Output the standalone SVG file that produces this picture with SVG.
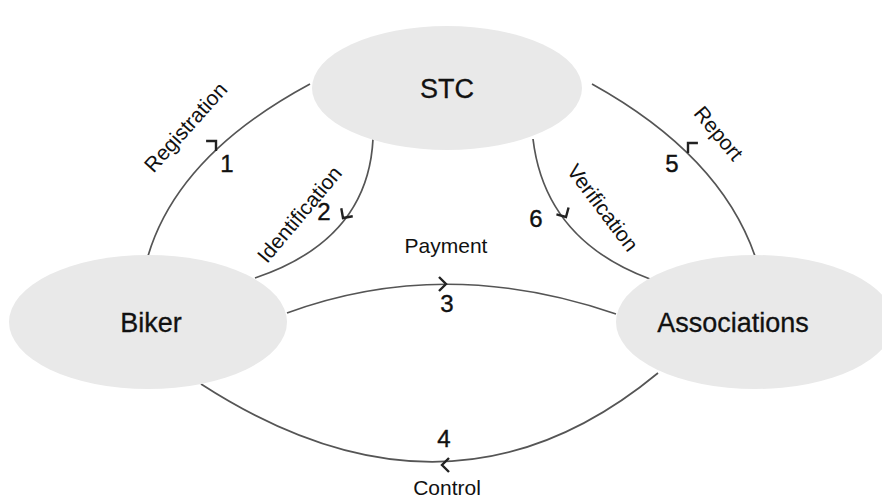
<svg xmlns="http://www.w3.org/2000/svg" width="882" height="499" viewBox="0 0 882 499">
<style>
.node{fill:#e9e9e9;stroke:none}
.nl{font-family:"Liberation Sans",Arial,sans-serif;font-size:27px;fill:#111;text-anchor:middle;stroke:#111;stroke-width:0.3}
.edge{fill:none;stroke:#555;stroke-width:1.7}
.ah{fill:none;stroke:#222;stroke-width:2.4}
.lab{font-family:"Liberation Sans",Arial,sans-serif;font-size:21px;fill:#111;text-anchor:middle}
.num{font-family:"Liberation Sans",Arial,sans-serif;font-size:24px;fill:#111;text-anchor:middle;stroke:#111;stroke-width:0.4}
</style>
<defs>
<path id="chev" d="M-7,-7 L0,0 L-7,7"/>
</defs>
<rect width="882" height="499" fill="#fff"/>
<g id="connectors">
<path class="edge" d="M148,256 Q178,155 310,84"/>
<use href="#chev" class="ah" transform="translate(216,141) rotate(-45)"/>
<path class="edge" d="M373,139 Q368,240 255,278"/>
<use href="#chev" class="ah" transform="translate(343,218) rotate(125)"/>
<path class="edge" d="M287,313 Q445,255 616,314"/>
<use href="#chev" class="ah" transform="translate(446,284) rotate(0)"/>
<path class="edge" d="M201,384 Q450,545 658,373"/>
<use href="#chev" class="ah" transform="translate(442,465) rotate(180)"/>
<path class="edge" d="M755,256 Q720,155 592,84"/>
<use href="#chev" class="ah" transform="translate(688,143) rotate(-135)"/>
<path class="edge" d="M533,139 Q545,240 650,279"/>
<use href="#chev" class="ah" transform="translate(566,217) rotate(60)"/>
<text class="lab" transform="translate(191,132) rotate(-48)">Registration</text>
<text class="num" x="227" y="172">1</text>
<text class="lab" transform="translate(305,219) rotate(-50)">Identification</text>
<text class="num" x="324" y="220">2</text>
<text class="lab" x="446" y="253">Payment</text>
<text class="num" x="447" y="312">3</text>
<text class="num" x="444" y="447">4</text>
<text class="lab" x="447" y="495">Control</text>
<text class="num" x="672" y="172">5</text>
<text class="lab" transform="translate(713,138) rotate(50)">Report</text>
<text class="num" x="536" y="227">6</text>
<text class="lab" transform="translate(597,212) rotate(53)">Verification</text>
</g>
<g id="stc">
<ellipse class="node" cx="447" cy="88" rx="135" ry="62"/>
<text class="nl" x="447" y="98">STC</text>
</g>
<g id="biker">
<ellipse class="node" cx="148" cy="322" rx="139" ry="67"/>
<text class="nl" x="151" y="332">Biker</text>
</g>
<g id="associations">
<ellipse class="node" cx="755" cy="322" rx="139" ry="67"/>
<text class="nl" x="733" y="332">Associations</text>
</g>
</svg>
